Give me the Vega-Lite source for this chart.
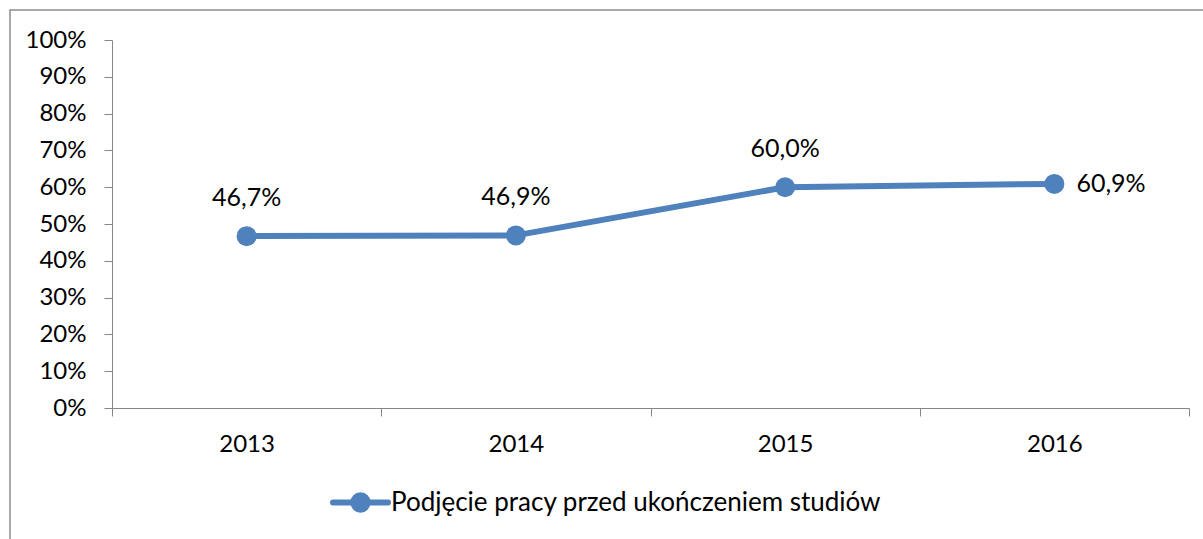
{
  "$schema": "https://vega.github.io/schema/vega-lite/v6.json",
  "autosize": "none",
  "width": 1200,
  "height": 540,
  "padding": {"left": 10, "top": 10, "right": 0, "bottom": 0},
  "background": "white",
  "config": {
    "font": "Lato",
    "view": {"stroke": "#8c8c8c", "strokeWidth": 1.5},
    "locale": {"number": {"decimal": ",", "thousands": " ", "grouping": [3], "currency": ["", " zł"]}}
  },
  "data": {
    "values": [
      {"year": "2013", "value": 0.467, "series": "Podjęcie pracy przed ukończeniem studiów"},
      {"year": "2014", "value": 0.469, "series": "Podjęcie pracy przed ukończeniem studiów"},
      {"year": "2015", "value": 0.600, "series": "Podjęcie pracy przed ukończeniem studiów"},
      {"year": "2016", "value": 0.609, "series": "Podjęcie pracy przed ukończeniem studiów"}
    ]
  },
  "encoding": {
    "x": {
      "field": "year", "type": "ordinal", "bandPosition": 0.5,
      "scale": {"type": "band", "range": [102, 1179], "paddingInner": 0, "paddingOuter": 0},
      "axis": {
        "title": null, "orient": "bottom", "offset": -142, "labelAngle": 0,
        "tickBand": "extent", "tickSize": 8, "domainColor": "#868686", "tickColor": "#868686",
        "labelFontSize": 24, "labelColor": "#000000", "labelPadding": 16, "labelFont": "Lato"
      }
    },
    "y": {
      "field": "value", "type": "quantitative",
      "scale": {"domain": [0, 1], "range": [398, 30], "nice": false},
      "axis": {
        "title": null, "offset": -102, "format": ".0%", "values": [0, 0.1, 0.2, 0.3, 0.4, 0.5, 0.6, 0.7, 0.8, 0.9, 1],
        "grid": false, "tickSize": 8, "domainColor": "#868686", "tickColor": "#868686",
        "labelFontSize": 24, "labelColor": "#000000", "labelPadding": 18, "labelFont": "Lato"
      }
    }
  },
  "layer": [
    {
      "mark": {"type": "line", "strokeWidth": 6, "strokeCap": "round", "strokeJoin": "round"},
      "encoding": {
        "color": {
          "field": "series", "type": "nominal",
          "scale": {"range": ["#4F81BD"]},
          "legend": {
            "title": null, "orient": "none", "legendX": 320, "legendY": 462,
            "symbolType": "M-1,0L1,0M0.26,0A0.26,0.26,0,1,1,-0.26,0A0.26,0.26,0,1,1,0.26,0Z",
            "symbolSize": 3025, "symbolFillColor": "#4F81BD", "symbolStrokeColor": "#4F81BD", "symbolStrokeWidth": 6,
            "labelFontSize": 26, "labelColor": "#000000", "labelFont": "Lato", "labelOffset": 0, "labelLimit": 0,
            "encode": {"symbols": {"update": {
              "fill": {"value": "#4F81BD"}, "stroke": {"value": "#4F81BD"}, "strokeWidth": {"value": 6}, "strokeCap": {"value": "round"}, "opacity": {"value": 1}}}}
          }
        }
      }
    },
    {
      "mark": {"type": "point", "filled": true, "size": 400, "opacity": 1, "color": "#4F81BD"},
      "encoding": {}
    },
    {
      "transform": [{"filter": "datum.year != '2016'"}],
      "mark": {"type": "text", "dy": -38, "fontSize": 25, "color": "#000000", "font": "Lato"},
      "encoding": {"text": {"field": "value", "format": ".1%"}}
    },
    {
      "transform": [{"filter": "datum.year == '2016'"}],
      "mark": {"type": "text", "dx": 22, "align": "left", "fontSize": 25, "color": "#000000", "font": "Lato"},
      "encoding": {"text": {"field": "value", "format": ".1%"}}
    }
  ]
}
